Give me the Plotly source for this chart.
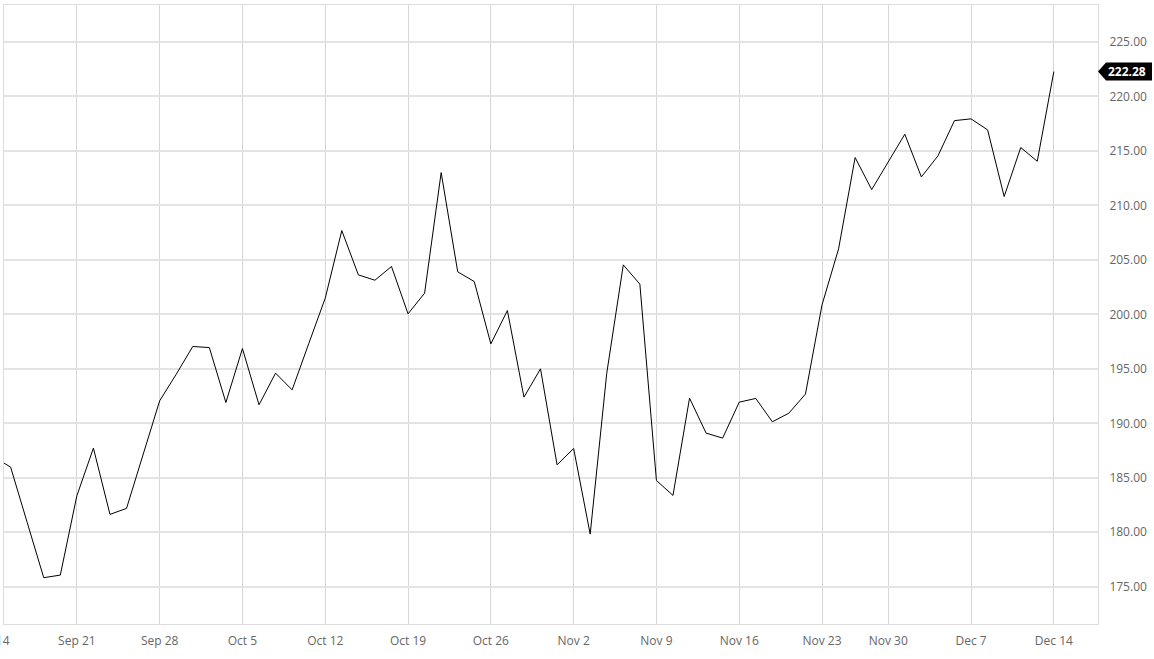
import plotly.graph_objects as go

# trading days (Thanksgiving 2020-11-26 closed)
dates = [
    '2020-09-14', '2020-09-15', '2020-09-16', '2020-09-17', '2020-09-18',
    '2020-09-21', '2020-09-22', '2020-09-23', '2020-09-24', '2020-09-25',
    '2020-09-28', '2020-09-29', '2020-09-30', '2020-10-01', '2020-10-02',
    '2020-10-05', '2020-10-06', '2020-10-07', '2020-10-08', '2020-10-09',
    '2020-10-12', '2020-10-13', '2020-10-14', '2020-10-15', '2020-10-16',
    '2020-10-19', '2020-10-20', '2020-10-21', '2020-10-22', '2020-10-23',
    '2020-10-26', '2020-10-27', '2020-10-28', '2020-10-29', '2020-10-30',
    '2020-11-02', '2020-11-03', '2020-11-04', '2020-11-05', '2020-11-06',
    '2020-11-09', '2020-11-10', '2020-11-11', '2020-11-12', '2020-11-13',
    '2020-11-16', '2020-11-17', '2020-11-18', '2020-11-19', '2020-11-20',
    '2020-11-23', '2020-11-24', '2020-11-25', '2020-11-27',
    '2020-11-30', '2020-12-01', '2020-12-02', '2020-12-03', '2020-12-04',
    '2020-12-07', '2020-12-08', '2020-12-09', '2020-12-10', '2020-12-11',
    '2020-12-14',
]

prices = [
    186.90, 185.98, 180.90, 175.83, 176.07,
    183.35, 187.72, 181.64, 182.19, 187.16,
    192.06, 194.50, 197.05, 196.95, 191.91,
    196.86, 191.70, 194.60, 193.07, 197.30,
    201.49, 207.69, 203.62, 203.13, 204.39,
    200.05, 201.94, 213.01, 203.90, 203.01,
    197.29, 200.35, 192.40, 195.00, 186.19,
    187.69, 179.83, 194.60, 204.54, 202.77,
    184.75, 183.38, 192.31, 189.10, 188.64,
    191.94, 192.28, 190.14, 190.93, 192.68,
    200.87, 206.01, 214.39, 211.45,
    214.02, 216.53, 212.61, 214.54, 217.78,
    217.94, 216.93, 210.81, 215.31, 214.05,
    222.28,
]

holidays = ['2020-11-26']

week_ticks = [
    '2020-09-14', '2020-09-21', '2020-09-28', '2020-10-05', '2020-10-12',
    '2020-10-19', '2020-10-26', '2020-11-02', '2020-11-09', '2020-11-16',
    '2020-11-23', '2020-11-30', '2020-12-07', '2020-12-14',
]

price_ticks = [175, 180, 185, 190, 195, 200, 205, 210, 215, 220, 225]

fig = go.Figure()

fig.add_trace(go.Scatter(
    x=dates,
    y=prices,
    mode='lines',
    line=dict(color='#000000', width=1),
    hoverinfo='x+y',
    showlegend=False
))

last_price = prices[-1]

# last price tag on the right axis
fig.add_shape(
    type='path',
    xref='paper', yref='y',
    xsizemode='pixel', ysizemode='pixel',
    xanchor=1, yanchor=last_price,
    path='M 0 0 L 8 9 L 54 9 L 54 -9 L 8 -9 Z',
    fillcolor='#000000',
    line=dict(width=0),
    layer='above'
)
fig.add_annotation(
    x=1, xref='paper', xanchor='left', xshift=8,
    y=last_price, yref='y', yanchor='middle',
    text=f'<b>{last_price:.2f}</b>',
    showarrow=False,
    font=dict(family='Open Sans', size=12, color='#ffffff')
)

# first week label is just left of the visible range, only its tail shows
fig.add_annotation(
    x=0, xref='paper', xanchor='right', xshift=8,
    y=0, yref='paper', yanchor='top', yshift=-6,
    text='Sep 14',
    showarrow=False,
    font=dict(family='Open Sans', size=12, color='#666666')
)

fig.update_layout(
    width=1154,
    height=659,
    margin=dict(l=4, r=56, t=5, b=35),
    paper_bgcolor='#ffffff',
    plot_bgcolor='#ffffff',
    font=dict(family='Open Sans', size=12, color='#666666'),
    showlegend=False
)

fig.update_xaxes(
    type='date',
    rangebreaks=[dict(bounds=['sat', 'mon']), dict(values=holidays)],
    range=['2020-09-14 14:24', '2020-12-16 16:00'],
    tickvals=week_ticks,
    tickformat='%b %-d',
    ticklabelstandoff=6,
    showgrid=True,
    gridcolor='#d6d6d6',
    gridwidth=1,
    showline=True,
    linecolor='#dcdcdc',
    linewidth=1,
    mirror=True,
    zeroline=False,
    ticks=''
)

fig.update_yaxes(
    side='right',
    range=[171.58, 228.39],
    tickvals=price_ticks,
    tickformat='.2f',
    ticklabelstandoff=8,
    showgrid=True,
    gridcolor='#e3e3e3',
    gridwidth=1.5,
    showline=True,
    linecolor='#dcdcdc',
    linewidth=1,
    mirror=True,
    zeroline=False,
    ticks=''
)

fig.write_html(
    "out.html",
    config={'displayModeBar': False},
    post_script="document.body.style.margin='0';"
)
